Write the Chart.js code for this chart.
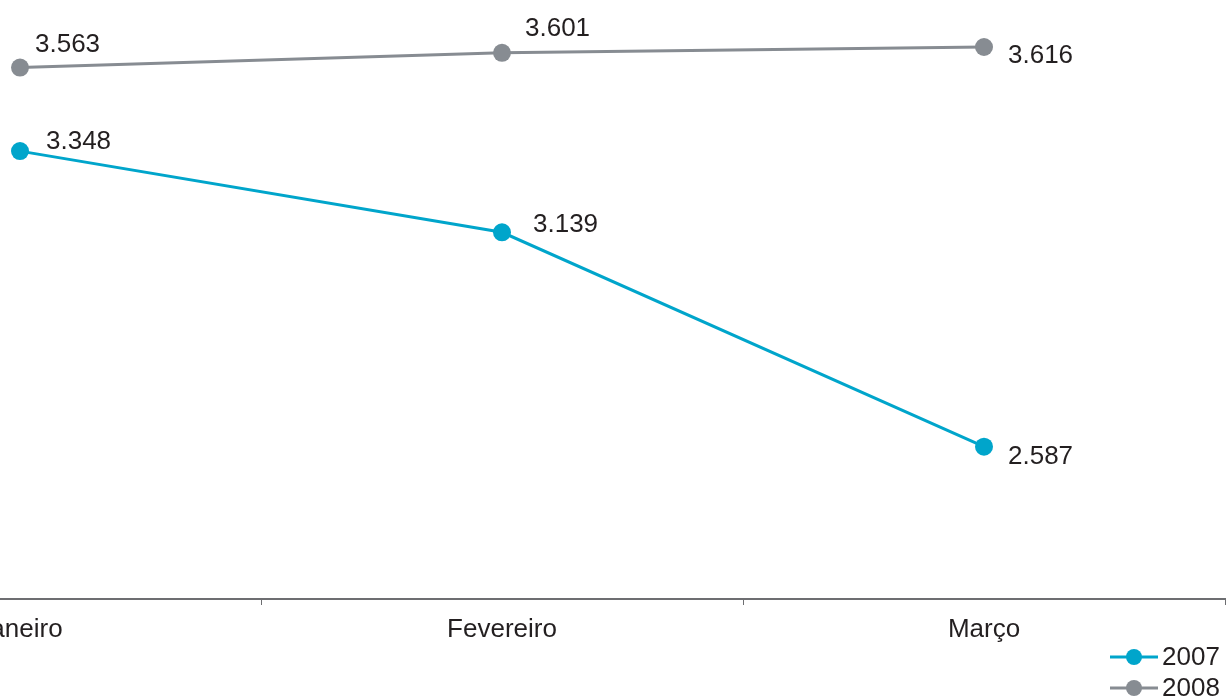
<!DOCTYPE html>
<html>
<head>
<meta charset="utf-8">
<script src="https://cdn.jsdelivr.net/npm/chart.js@4.4.0/dist/chart.umd.min.js"></script>
<style>
  html, body { margin: 0; padding: 0; background: #ffffff; overflow: hidden; }
  #wrap { position: absolute; left: -221px; top: 0; width: 1447px; height: 700px; }
</style>
</head>
<body>
<div id="wrap"><canvas id="chart"></canvas></div>
<script>
// Months and monthly values per year
const months = ['Janeiro', 'Fevereiro', 'Março'];
const values2007 = [3.348, 3.139, 2.587];
const values2008 = [3.563, 3.601, 3.616];
const seriesNames = ['2007', '2008'];

const COLOR_2007 = '#00a5cb';
const COLOR_2008 = '#878c92';
const TEXT = '#231f20';
const FONT = '"Liberation Sans", Arial, Helvetica, sans-serif';

// Label offsets (x, y) from each point, per dataset
const labelOffsets = [
  [[26, -9], [31, -7], [24, 10]],
  [[15, -23], [23, -24], [24, 9]]
];

const fmt = v => v.toFixed(3);

const valueLabels = {
  id: 'valueLabels',
  afterDatasetsDraw(chart) {
    const ctx = chart.ctx;
    ctx.save();
    ctx.font = '26px ' + FONT;
    ctx.fillStyle = TEXT;
    ctx.textAlign = 'left';
    ctx.textBaseline = 'middle';
    chart.data.datasets.forEach((ds, di) => {
      chart.getDatasetMeta(di).data.forEach((pt, i) => {
        const [dx, dy] = labelOffsets[di][i];
        ctx.fillText(fmt(ds.data[i]), pt.x + dx, pt.y + dy);
      });
    });
    ctx.restore();
  }
};

// Vertical legend in the lower right corner
const stackedLegend = {
  id: 'stackedLegend',
  afterDraw(chart) {
    const ctx = chart.ctx;
    const x0 = chart.chartArea.right - 115;
    const rows = [657, 688];
    ctx.save();
    ctx.font = '26px ' + FONT;
    ctx.textBaseline = 'middle';
    ctx.textAlign = 'left';
    chart.data.datasets.forEach((ds, i) => {
      const y = rows[i];
      ctx.strokeStyle = ds.borderColor;
      ctx.lineWidth = 3;
      ctx.beginPath();
      ctx.moveTo(x0, y);
      ctx.lineTo(x0 + 48, y);
      ctx.stroke();
      ctx.fillStyle = ds.backgroundColor;
      ctx.beginPath();
      ctx.arc(x0 + 24, y, 8, 0, Math.PI * 2);
      ctx.fill();
      ctx.fillStyle = TEXT;
      ctx.fillText(ds.label, x0 + 52, y + 1);
    });
    ctx.restore();
  }
};

new Chart(document.getElementById('chart'), {
  type: 'line',
  data: {
    labels: months,
    datasets: [
      {
        label: seriesNames[0],
        data: values2007,
        borderColor: COLOR_2007,
        backgroundColor: COLOR_2007,
        borderWidth: 3,
        pointRadius: 9,
        pointHoverRadius: 9,
        pointBorderWidth: 0,
        tension: 0,
        clip: false
      },
      {
        label: seriesNames[1],
        data: values2008,
        borderColor: COLOR_2008,
        backgroundColor: COLOR_2008,
        borderWidth: 3,
        pointRadius: 9,
        pointHoverRadius: 9,
        pointBorderWidth: 0,
        tension: 0,
        clip: false
      }
    ]
  },
  options: {
    responsive: true,
    maintainAspectRatio: false,
    animation: false,
    events: [],
    layout: { autoPadding: false, padding: { left: 0, right: 1, top: 0, bottom: 0 } },
    plugins: {
      legend: { display: false },
      tooltip: { enabled: false }
    },
    scales: {
      x: {
        offset: true,
        border: { display: true, color: '#6d6e71', width: 2 },
        grid: {
          offset: true,
          drawOnChartArea: false,
          drawTicks: true,
          tickLength: 6,
          tickColor: '#6d6e71',
          tickWidth: 1
        },
        ticks: {
          color: TEXT,
          font: { family: FONT, size: 26 },
          padding: 9,
          maxRotation: 0
        },
        afterFit(scale) { scale.height = 101; }
      },
      y: {
        display: false,
        min: 2.195,
        max: 3.737
      }
    }
  },
  plugins: [valueLabels, stackedLegend]
});
</script>
</body>
</html>
